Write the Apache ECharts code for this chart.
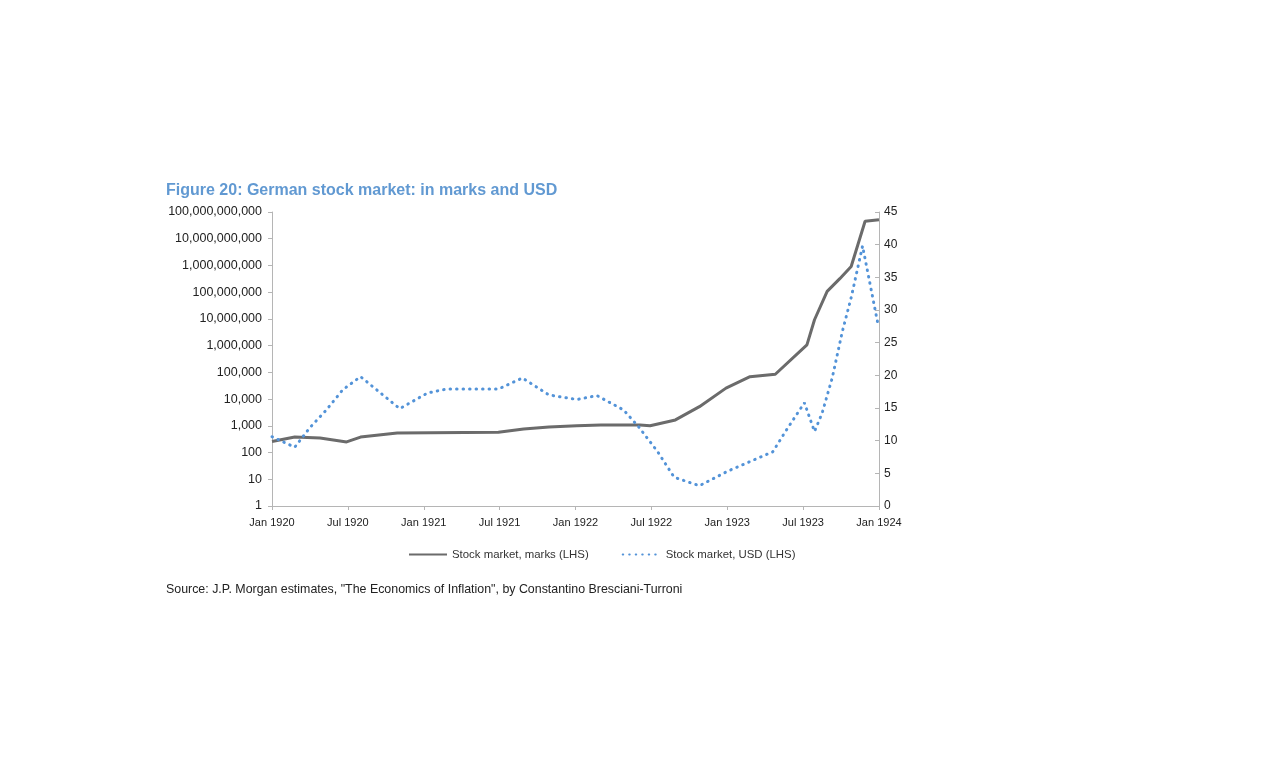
<!DOCTYPE html>
<html>
<head>
<meta charset="utf-8">
<title>German stock market: in marks and USD</title>
<script src="https://cdn.jsdelivr.net/npm/echarts@6/dist/echarts.min.js"></script>
<style>
	html, body { margin: 0; padding: 0; background: #fff; }
	#chart { width: 1267px; height: 762px; }
</style>
</head>
<body>
<div id="chart"></div>
<script>
// x positions are months since Jan 1920 (0 = Jan 1920, 48 = Jan 1924)
var xLabels = ['Jan 1920', 'Jul 1920', 'Jan 1921', 'Jul 1921', 'Jan 1922', 'Jul 1922', 'Jan 1923', 'Jul 1923', 'Jan 1924'];
var leftTicks = [1, 10, 100, 1000, 10000, 100000, 1000000, 10000000, 100000000, 1000000000, 10000000000, 100000000000];

// stock market in marks (left, log scale)
var marksMonth = [0, 1.8, 3.8, 5.9, 7.0, 9.9, 17.9, 19.9, 21.9, 24.1, 26.0, 29.1, 29.9, 31.9, 33.8, 35.9, 37.8, 39.8, 42.3, 42.9, 43.9, 44.9, 45.8, 46.9, 48];
var marksValue = [260, 380, 350, 250, 380, 540, 580, 760, 910, 1000, 1070, 1070, 1000, 1660, 5200, 25700, 69000, 85000, 1070000, 9300000, 107000000, 320000000, 910000000, 45000000000, 51000000000];

// stock market in USD (right axis)
var usdMonth = [0, 1.8, 3.0, 4.3, 5.6, 7.0, 10.1, 12.3, 13.8, 17.9, 19.8, 21.9, 24.1, 25.7, 27.8, 29.0, 30.5, 31.8, 33.8, 36.0, 37.8, 39.6, 40.7, 42.1, 42.9, 43.5, 44.3, 45.1, 45.8, 46.7, 47.9];
var usdValue = [10.6, 9.0, 12.0, 14.7, 17.8, 19.8, 14.9, 17.3, 17.9, 17.9, 19.6, 17.0, 16.3, 16.9, 14.7, 12.1, 8.3, 4.4, 3.1, 5.3, 6.8, 8.3, 11.7, 15.8, 11.4, 14.2, 19.6, 26.7, 31.9, 39.8, 28.0];

function pairs(xs, ys) {
	var out = [];
	for (var i = 0; i < xs.length; i++) {
		out.push([xs[i], ys[i]]);
	}
	return out;
}

var myChart = echarts.init(document.getElementById('chart'));
var font = 'Liberation Sans, Arial, sans-serif';
var axisGrey = '#b5b5b5';

var option = {
	backgroundColor: '#fff',
	textStyle: { fontFamily: font },
	title: [{
		text: 'Figure 20: German stock market: in marks and USD',
		left: 166,
		top: 183,
		padding: 0,
		textStyle: { fontFamily: font, fontSize: 16, fontWeight: 'bold', color: '#6199d2' }
	}, {
		text: 'Source: J.P. Morgan estimates, "The Economics of Inflation", by Constantino Bresciani-Turroni',
		left: 166,
		top: 584,
		padding: 0,
		textStyle: { fontFamily: font, fontSize: 12.4, fontWeight: 'normal', color: '#222' }
	}],
	legend: {
		left: 403,
		top: 544,
		itemWidth: 38,
		itemHeight: 10,
		itemGap: 33,
		itemStyle: { opacity: 0 },
		textStyle: { fontFamily: font, fontSize: 11.4, color: '#333' },
		data: ['Stock market, marks (LHS)', 'Stock market, USD (LHS)']
	},
	grid: {
		left: 272,
		right: 388,
		top: 212,
		bottom: 256,
		containLabel: false
	},
	xAxis: {
		type: 'value',
		min: 0,
		max: 48,
		interval: 6,
		splitLine: { show: false },
		axisLine: { lineStyle: { color: axisGrey, width: 1 } },
		axisTick: { show: true, length: 4, lineStyle: { color: axisGrey } },
		axisLabel: {
			margin: 11,
			fontSize: 11,
			color: '#222',
			formatter: function(v) {
				return xLabels[Math.round(v / 6)];
			}
		}
	},
	yAxis: [{
		type: 'log',
		logBase: 10,
		min: 1,
		max: 100000000000,
		position: 'left',
		splitLine: { show: false },
		axisLine: { show: true, lineStyle: { color: axisGrey, width: 1 } },
		axisTick: { show: true, length: 4, customValues: leftTicks, lineStyle: { color: axisGrey } },
		axisLabel: {
			margin: 10,
			fontSize: 12.5,
			color: '#222',
			customValues: leftTicks,
			formatter: function(v) {
				return Math.round(v).toLocaleString('en-US');
			}
		}
	}, {
		type: 'value',
		min: 0,
		max: 45,
		interval: 5,
		position: 'right',
		splitLine: { show: false },
		axisLine: { show: true, lineStyle: { color: axisGrey, width: 1 } },
		axisTick: { show: true, inside: true, length: 4, lineStyle: { color: axisGrey } },
		axisLabel: { margin: 5, fontSize: 12, color: '#222' }
	}],
	series: [{
		name: 'Stock market, marks (LHS)',
		type: 'line',
		yAxisIndex: 0,
		symbol: 'none',
		smooth: false,
		lineStyle: { color: '#6b6b6b', width: 3 },
		itemStyle: { color: '#6b6b6b' },
		data: pairs(marksMonth, marksValue)
	}, {
		name: 'Stock market, USD (LHS)',
		type: 'line',
		yAxisIndex: 1,
		symbol: 'none',
		smooth: false,
		lineStyle: { color: '#5393d8', width: 3, type: [0.5, 6], cap: 'round' },
		itemStyle: { color: '#5393d8' },
		data: pairs(usdMonth, usdValue)
	}]
};
myChart.setOption(option);
</script>
</body>
</html>
